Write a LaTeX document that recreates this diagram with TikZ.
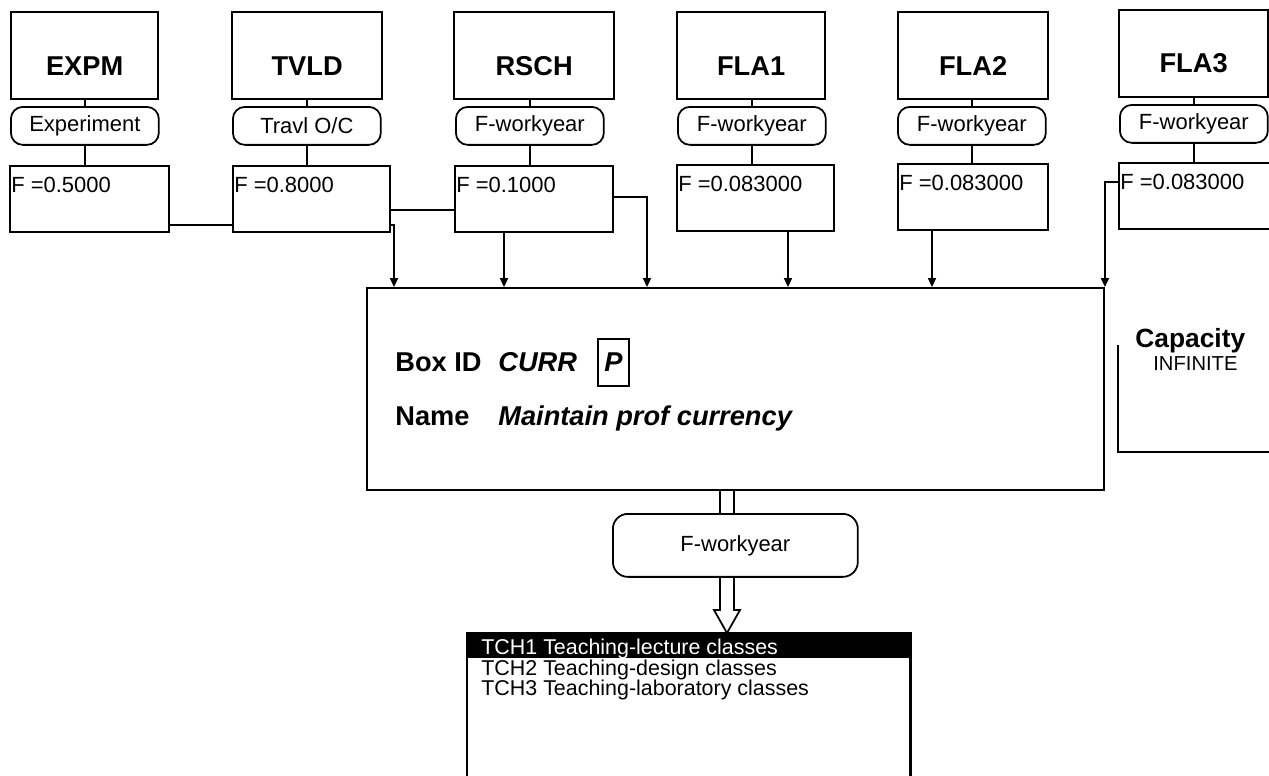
\documentclass[tikz,border=0pt]{standalone}
\usepackage{fontspec}
\setmainfont{Liberation Sans}
\usetikzlibrary{arrows.meta}

\begin{document}
\begin{tikzpicture}[x=0.02cm, y=-0.02cm,
	title/.style={draw, line width=1.3pt, minimum height=1.74cm, anchor=north west, inner sep=0pt, text height=0.78cm, font=\fontsize{15.5}{18}\selectfont\bfseries},
	pill/.style={draw, line width=1pt, rounded corners=0.24cm, minimum width=2.96cm, minimum height=0.76cm, anchor=north west, inner sep=0pt, font=\fontsize{12.5}{15}\selectfont},
	fbox/.style={draw, line width=1.2pt, minimum height=1.32cm, anchor=north west, inner sep=0pt},
	fval/.style={anchor=north west, inner sep=0pt, xshift=0.04cm, yshift=-0.23cm, font=\fontsize{12.5}{15}\selectfont},
	link/.style={line width=1pt},
	feed/.style={line width=1pt, -{Triangle[length=5pt,width=4.5pt]}},
	big/.style={anchor=base west, inner sep=0pt, font=\fontsize{15.5}{18}\selectfont\bfseries},
	item/.style={anchor=base west, inner sep=0pt, text height=0.28cm, text depth=0.05cm, font=\fontsize{12.2}{14}\selectfont}]
	\useasboundingbox (0,0) rectangle (1269,775);
	\node[title, minimum width=2.94cm] (expm) at (10,11) {EXPM};
	\node[title, minimum width=3cm] (tvld) at (231,11) {TVLD};
	\node[title, minimum width=3.2cm] (rsch) at (453,11) {RSCH};
	\node[title, minimum width=2.96cm] (fla1) at (676,11) {FLA1};
	\node[title, minimum width=3cm] (fla2) at (897,11) {FLA2};
	\node[title, minimum width=2.98cm] (fla3) at (1118,9) {FLA3};
	\node[pill] (pexpm) at (10,106) {Experiment};
	\node[pill] (ptvld) at (232,106) {Travl O/C};
	\node[pill] (prsch) at (455,106) {F-workyear};
	\node[pill] (pfla1) at (677,106) {F-workyear};
	\node[pill] (pfla2) at (897,106) {F-workyear};
	\node[pill] (pfla3) at (1119,104) {F-workyear};
	\node[fbox, minimum width=3.18cm] (fexpm) at (9,165) {};
	\node[fbox, minimum width=3.14cm] (ftvld) at (232,165) {};
	\node[fbox, minimum width=3.16cm] (frsch) at (454,165) {};
	\node[fbox, minimum width=3.14cm] (ffla1) at (676,164) {};
	\node[fbox, minimum width=3cm] (ffla2) at (897,163) {};
	\node[fbox, minimum width=3.1cm] (ffla3) at (1118,162) {};
	\node[fval] (vexpm) at (fexpm.north west) {F =0.5000};
	\node[fval] (vtvld) at (ftvld.north west) {F =0.8000};
	\node[fval] (vrsch) at (frsch.north west) {F =0.1000};
	\node[fval] (vfla1) at (ffla1.north west) {F =0.083000};
	\node[fval] (vfla2) at (ffla2.north west) {F =0.083000};
	\node[fval] (vfla3) at (ffla3.north west) {F =0.083000};
	\foreach \n in {expm,tvld,rsch,fla1,fla2,fla3}{
		\draw[link] (p\n.north) -- (p\n.north |- \n.south);
		\draw[link] (p\n.south) -- (p\n.south |- f\n.north);
	}
	\node[draw, line width=1.2pt, minimum width=14.74cm, minimum height=4.04cm, anchor=north west] (curr) at (366,287) {};
	\draw[link] (fexpm.east |- 0,225) -- (ftvld.west |- 0,225);
	\draw[feed] (ftvld.east |- 0,225) -| (curr.north -| 394,0);
	\draw[link] (ftvld.east |- 0,210) -- (frsch.west |- 0,210);
	\draw[feed] (frsch.south -| 504,0) -- (curr.north -| 504,0);
	\draw[feed] (frsch.east |- 0,197) -| (curr.north -| 647,0);
	\draw[feed] (ffla1.south -| 788,0) -- (curr.north -| 788,0);
	\draw[feed] (ffla2.south -| 932,0) -- (curr.north -| 932,0);
	\draw[feed] (ffla3.west |- 0,182) -| (curr.north east);
	\node[big] (boxid) at (395,371) {Box ID};
	\node[big, font=\fontsize{15.5}{18}\selectfont\bfseries\itshape] (cid) at (498,371) {CURR};
	\node[draw, line width=1pt, minimum width=0.62cm, minimum height=0.94cm, inner sep=0pt, anchor=north west, font=\fontsize{15.5}{18}\selectfont\bfseries\itshape] (pbox) at (597,338) {P};
	\node[big] (name) at (395,425) {Name};
	\node[big, font=\fontsize{15.5}{18}\selectfont\bfseries\itshape] (nval) at (498,425) {Maintain prof currency};
	\node[big, font=\fontsize{15}{18}\selectfont\bfseries] (cap) at (1135,347) {Capacity};
	\node[anchor=base west, inner sep=0pt, font=\fontsize{11.5}{14}\selectfont] (inf) at (1153,370) {INFINITE};
	\draw[link] (1118,345) -- (1118,452) -- (1270,452);
	\node[draw, line width=1pt, rounded corners=0.3cm, minimum width=4.9cm, minimum height=1.26cm, anchor=north west, font=\fontsize{12.5}{15}\selectfont] (fwy) at (612,513) {F-workyear};
	\node[minimum width=8.86cm, minimum height=2.9cm, anchor=north west, inner sep=0pt] (list) at (467,633) {};
	\draw[link] (curr.south -| 720,0) -- (fwy.north -| 720,0);
	\draw[link] (curr.south -| 734,0) -- (fwy.north -| 734,0);
	\draw[link, line join=miter] (fwy.south -| 720,0) -- (720,610) -- (714,610) -- (list.north -| 727,0) -- (740,610) -- (734,610) -- (fwy.south -| 734,0);
	\fill (list.north west) rectangle ([yshift=-0.5cm]list.north east);
	\draw[line width=1.4pt] (list.south west) -- (list.north west) -- (list.north east) -- (list.south east);
	\node[item, text=white] (tch1) at (481,654) {TCH1 Teaching-lecture classes};
	\node[item] (tch2) at (481,675) {TCH2 Teaching-design classes};
	\node[item] (tch3) at (481,695) {TCH3 Teaching-laboratory classes};
\end{tikzpicture}
\end{document}
